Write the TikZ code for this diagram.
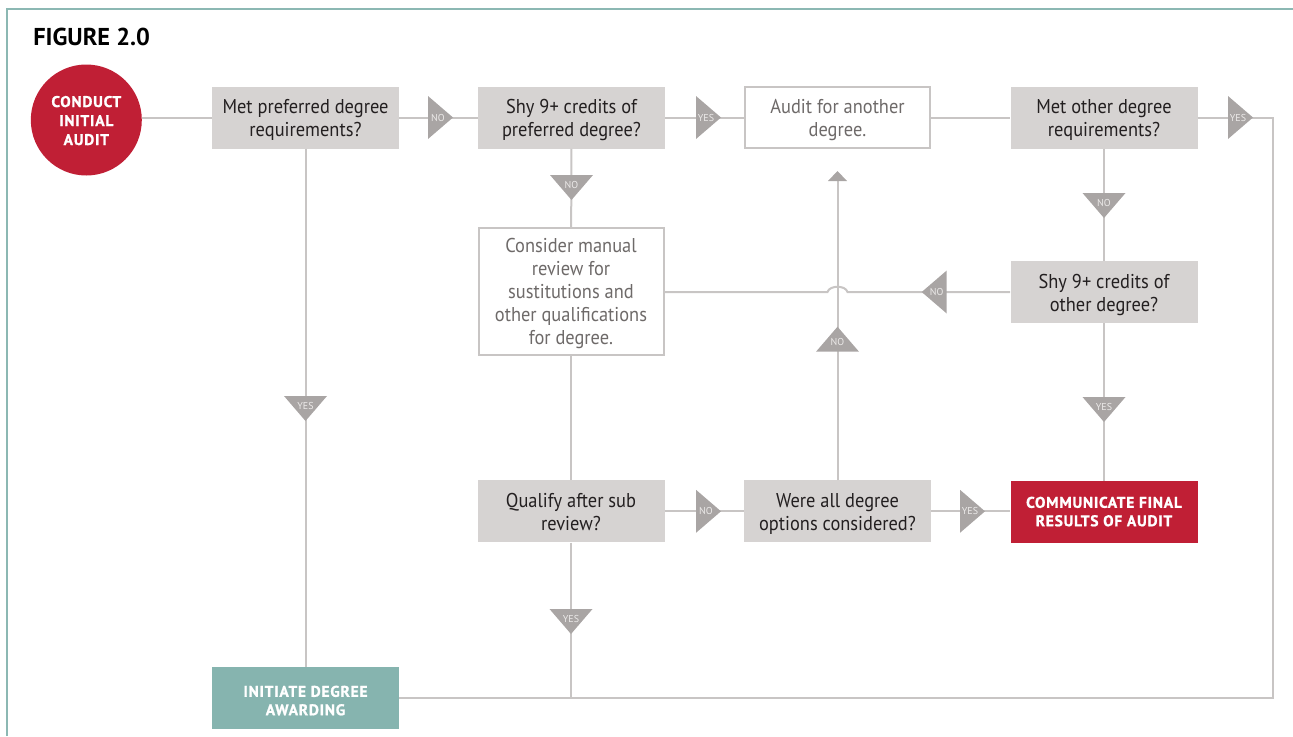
\documentclass[tikz,border=0pt]{standalone}
\usepackage{fontspec}
\setmainfont{PT Sans}[FakeStretch=0.92]
\newfontfamily\titlefont{PT Sans}
\newfontfamily\capsfont{PT Sans}[LetterSpace=5, BoldFeatures={FakeBold=1.2}]
\usetikzlibrary{arrows.meta}

\definecolor{boxgray}{HTML}{D6D3D2}
\definecolor{flagfill}{HTML}{A9A5A4}
\definecolor{wirecol}{HTML}{C8C5C4}
\definecolor{auditred}{HTML}{C01F35}
\definecolor{awardteal}{HTML}{86B4AF}
\definecolor{framecol}{HTML}{8CB8B3}
\definecolor{ink}{HTML}{231F20}
\definecolor{softink}{HTML}{6E6A69}
\definecolor{flagink}{HTML}{ECEAE9}

% multi-line text boxes sit on their last line: text height/depth fix
% where that line falls inside each box
\tikzset{
  question/.style={rectangle, fill=boxgray, text=ink, inner sep=0pt,
    minimum width=140.25pt, minimum height=46.5pt, align=center,
    text height=32pt, text depth=2.8pt,
    font=\fontsize{15}{17.25}\selectfont},
  action/.style={question, fill=white, draw=wirecol, line width=1.5pt,
    text=softink, minimum width=138.75pt, minimum height=45.75pt},
  terminal/.style={rectangle, inner sep=0pt, text=white, align=center,
    minimum width=140.25pt, minimum height=46.5pt,
    text height=24pt, text depth=2.7pt,
    font=\capsfont\bfseries\fontsize{11.6}{13.8}\selectfont},
  wire/.style={draw=wirecol, line width=1.5pt},
  flagtext/.style={inner sep=0pt, text=flagink, font=\titlefont\fontsize{7.5}{8}\selectfont},
}

% decision flags: name, position, label
\newcommand\flagright[4]{%
  \fill[flagfill] (#2,#3-21.5) -- (#2+25,#3) -- (#2,#3+21.5) -- cycle;
  \node[flagtext] (#1) at (#2+10,#3) {#4};}
\newcommand\flagleft[4]{%
  \fill[flagfill] (#2,#3-21.5) -- (#2-25,#3) -- (#2,#3+21.5) -- cycle;
  \node[flagtext] (#1) at (#2-10,#3) {#4};}
\newcommand\flagdown[4]{%
  \fill[flagfill] (#2-21.5,#3) -- (#2,#3+25) -- (#2+21.5,#3) -- cycle;
  \node[flagtext] (#1) at (#2,#3+10) {#4};}
\newcommand\flagup[4]{%
  \fill[flagfill] (#2-21.5,#3) -- (#2,#3-25) -- (#2+21.5,#3) -- cycle;
  \node[flagtext] (#1) at (#2,#3-10) {#4};}

\begin{document}
\begin{tikzpicture}[x=0.75pt, y=-0.75pt]
\useasboundingbox (0,0) rectangle (1293,736);

% frame and title
\draw[framecol, line width=1.7pt] (7.3,736) -- (7.3,8.8) -- (1293,8.8);
\node[anchor=base west, inner sep=0pt, text=black,
  font=\titlefont\bfseries\fontsize{18.3}{20}\selectfont]
  (title) at (33,45) {FIGURE 2.0};

% nodes
\node[circle, fill=auditred, minimum size=83.25pt, inner sep=0pt, text=white,
  align=center, text height=40.5pt, text depth=3pt,
  font=\capsfont\bfseries\fontsize{11.6}{14.25}\selectfont]
  (start) at (86.3,120) {CONDUCT\\INITIAL\\AUDIT};
\node[question] (b1) at (305.5,117.5) {Met preferred degree\\requirements?};
\node[question] (b2) at (571.5,117.5) {Shy 9+ credits of\\preferred degree?};
\node[action]   (b3) at (837.5,117.5) {Audit for another\\degree.};
\node[question] (b4) at (1104,117.5) {Met other degree\\requirements?};
\node[action, minimum height=95.25pt, text height=82pt] (b5) at (571,291.5)
  {Consider manual\\review for\\sustitutions and\\other qualifications\\for degree.};
\node[question] (b6) at (1104,292) {Shy 9+ credits of\\other degree?};
\node[question] (b7) at (571,511.3) {Qualify after sub\\review?};
\node[question] (b8) at (837.5,511.3) {Were all degree\\options considered?};
\node[terminal, fill=auditred] (b9) at (1104,512) {COMMUNICATE FINAL\\RESULTS OF AUDIT};
\node[terminal, fill=awardteal, text height=28.5pt] (b10) at (305.5,698)
  {INITIATE DEGREE\\AWARDING};

% connectors
\coordinate (rc) at (1273.3,117.5);
\coordinate (hopR) at (847.5,292);
\coordinate (hopL) at (827.5,292);
\coordinate (tip) at (837.5,171);

\draw[wire] (b1.west) -- (b1.west -| start.east);
\draw[wire] (b1) -- (b2);
\draw[wire] (b2) -- (b3);
\draw[wire] (b3) -- (b4);
\draw[wire] (b4) -- (rc) |- (b10);
\draw[wire] (b1) -- (b10);
\draw[wire] (b2) -- (b5);
\draw[wire] (b5) -- (b7);
\draw[wire] (b7.south) -- (b7.south |- b10.center);
\draw[wire] (b4) -- (b6);
\draw[wire] (b6) -- (b9);
\draw[wire] (b6.west) -- (hopR) .. controls +(-2,-7) and +(2,-7) .. (hopL)
  -- (hopL -| b5.east);
\draw[wire] (b7) -- (b8);
\draw[wire] (b8.east) -- (b8.east -| b9.west);
\draw[wire, -{Triangle[width=14.25pt, length=7.5pt, line width=0pt, fill=flagfill, color=flagfill]}]
  (b8) -- (tip);

% decision flags
\flagright{no1}{428}{117.5}{NO}
\flagright{yes1}{696}{117.5}{YES}
\flagright{yes2}{1228}{117.5}{YES}
\flagdown{no2}{571.5}{175}{NO}
\flagdown{no3}{1104}{193}{NO}
\flagleft{no4}{946.7}{292}{NO}
\flagup{no5}{837.5}{351.7}{NO}
\flagdown{yes3}{1104}{397}{YES}
\flagdown{yes4}{305.5}{396}{YES}
\flagright{no6}{696}{511.3}{NO}
\flagright{yes5}{960}{511.3}{YES}
\flagdown{yes6}{571}{609}{YES}
\end{tikzpicture}
\end{document}
